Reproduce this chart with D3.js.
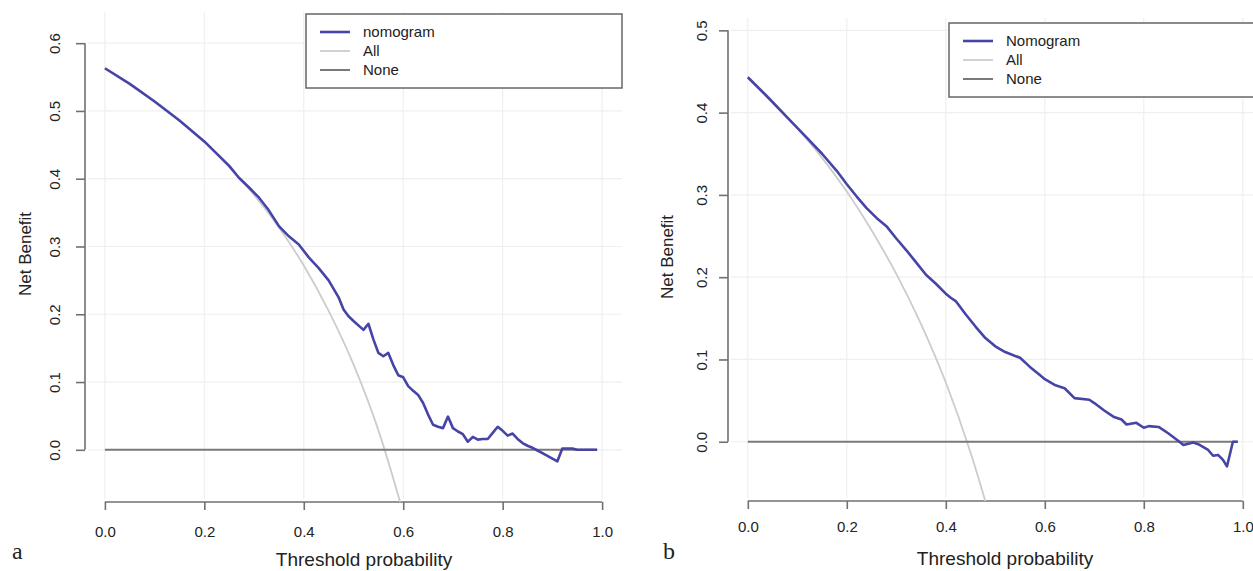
<!DOCTYPE html>
<html>
<head>
<meta charset="utf-8">
<script src="https://cdn.jsdelivr.net/npm/d3@7"></script>
<style>
  body { margin: 0; background: #fff; }
  text { font-family: "Liberation Sans", Arial, sans-serif; fill: #222; }
</style>
</head>
<body>
<div id="chart"></div>
<script>
// chart size
var chart_width = 1253;
var chart_height = 571;

// panel a data
var aThreshold = [0.00, 0.05, 0.10, 0.15, 0.20, 0.25, 0.27, 0.29, 0.31, 0.33, 0.35, 0.37, 0.39, 0.41, 0.43, 0.45, 0.47, 0.48, 0.49, 0.50,
  0.52, 0.53, 0.54, 0.55, 0.56, 0.57, 0.58, 0.59, 0.60, 0.61, 0.62, 0.63, 0.64, 0.65, 0.66, 0.67, 0.68, 0.69, 0.70, 0.71,
  0.72, 0.73, 0.74, 0.75, 0.76, 0.77, 0.78, 0.79, 0.80, 0.81, 0.82, 0.83, 0.84, 0.85, 0.86, 0.87, 0.88, 0.89, 0.90, 0.91,
  0.92, 0.93, 0.94, 0.95, 0.99];
var aNomogram = [0.563, 0.540, 0.514, 0.486, 0.455, 0.419, 0.401, 0.387, 0.372, 0.353, 0.330, 0.315, 0.303, 0.284, 0.268, 0.250, 0.225, 0.207, 0.197, 0.190,
  0.177, 0.186, 0.163, 0.143, 0.138, 0.143, 0.125, 0.110, 0.107, 0.094, 0.087, 0.081, 0.069, 0.052, 0.037, 0.034, 0.032, 0.049, 0.032, 0.027,
  0.023, 0.012, 0.019, 0.015, 0.016, 0.016, 0.025, 0.034, 0.028, 0.021, 0.024, 0.016, 0.010, 0.006, 0.003, -0.001, -0.005, -0.009, -0.013, -0.017,
  0.002, 0.002, 0.002, 0.000, 0.000];
var aAllThreshold = [0.00, 0.05, 0.10, 0.15, 0.20, 0.25, 0.30, 0.35, 0.40, 0.45, 0.50, 0.55, 0.60];
var aAll = [0.563, 0.540, 0.514, 0.486, 0.454, 0.417, 0.376, 0.328, 0.272, 0.205, 0.126, 0.029, -0.093];
var aYTicks = [0.0, 0.1, 0.2, 0.3, 0.4, 0.5, 0.6];

// panel b data
var bThreshold = [0.00, 0.04, 0.08, 0.12, 0.15, 0.18, 0.20, 0.22, 0.24, 0.26, 0.28, 0.30, 0.32, 0.34, 0.36, 0.38, 0.40, 0.41, 0.42, 0.44,
  0.46, 0.48, 0.50, 0.52, 0.55, 0.57, 0.59, 0.60, 0.62, 0.64, 0.66, 0.69, 0.70, 0.72, 0.74, 0.755, 0.765, 0.785, 0.80, 0.81,
  0.83, 0.85, 0.87, 0.88, 0.90, 0.91, 0.93, 0.94, 0.95, 0.96, 0.968, 0.98, 0.99];
var bNomogram = [0.443, 0.419, 0.394, 0.369, 0.350, 0.329, 0.313, 0.298, 0.284, 0.272, 0.262, 0.247, 0.233, 0.218, 0.203, 0.192, 0.180, 0.175, 0.171, 0.155,
  0.140, 0.126, 0.116, 0.109, 0.102, 0.091, 0.081, 0.076, 0.069, 0.065, 0.053, 0.051, 0.047, 0.038, 0.030, 0.027, 0.021, 0.023, 0.017, 0.019,
  0.018, 0.010, 0.001, -0.004, -0.001, -0.003, -0.010, -0.017, -0.016, -0.022, -0.030, 0.000, 0.000];
var bAllThreshold = [0.00, 0.05, 0.10, 0.15, 0.20, 0.25, 0.30, 0.35, 0.40, 0.45, 0.50];
var bAll = [0.443, 0.414, 0.381, 0.345, 0.304, 0.257, 0.204, 0.143, 0.072, -0.013, -0.114];
var bYTicks = [0.0, 0.1, 0.2, 0.3, 0.4, 0.5];

var xTicks = [0.0, 0.2, 0.4, 0.6, 0.8, 1.0];
var noneLevel = 0;

var svg = d3.select("#chart").append("svg")
  .attr("width", chart_width)
  .attr("height", chart_height);

function drawPanel(p) {
  var x = d3.scaleLinear().domain([-0.04, 1.04]).range([p.left, p.right]);
  var y = d3.scaleLinear().domain(p.yDomain).range([p.bottom, p.top]);
  var g = svg.append("g");

  // clip for the "All" curve
  g.append("clipPath").attr("id", "clip-" + p.id)
    .append("rect")
    .attr("x", p.left).attr("y", p.top)
    .attr("width", p.right - p.left).attr("height", p.bottom - p.top);

  // grid
  g.selectAll(".vgrid").data(xTicks).enter().append("line")
    .attr("x1", d => x(d)).attr("x2", d => x(d))
    .attr("y1", p.top).attr("y2", p.bottom - 3)
    .attr("stroke", "#efefef").attr("stroke-width", 1.2);
  g.selectAll(".hgrid").data(p.yTicks).enter().append("line")
    .attr("x1", p.left + 3).attr("x2", p.right)
    .attr("y1", d => y(d)).attr("y2", d => y(d))
    .attr("stroke", "#efefef").attr("stroke-width", 1.2);

  // y axis
  var yAxis = g.append("g").attr("transform", "translate(" + p.left + ",0)")
    .call(d3.axisLeft(y).tickValues(p.yTicks).tickFormat(d3.format(".1f")).tickSize(9).tickSizeOuter(0));
  yAxis.select(".domain").remove();
  yAxis.append("line")
    .attr("y1", y(p.yTicks[0])).attr("y2", y(p.yTicks[p.yTicks.length - 1]))
    .attr("stroke", "#707070").attr("stroke-width", 1.6);
  yAxis.selectAll(".tick line").attr("stroke", "#707070").attr("stroke-width", 1.6);
  yAxis.selectAll(".tick text")
    .attr("x", null).attr("dy", null)
    .attr("text-anchor", "middle")
    .attr("transform", "translate(" + p.yLabelOffset + ",0) rotate(-90)")
    .style("font-family", "Liberation Sans, Arial, sans-serif")
    .style("font-size", "15px").attr("fill", "#333");

  // x axis
  var xAxis = g.append("g").attr("transform", "translate(0," + p.bottom + ")")
    .call(d3.axisBottom(x).tickValues(xTicks).tickFormat(d3.format(".1f")).tickSize(8).tickSizeOuter(0));
  xAxis.select(".domain").remove();
  xAxis.append("line")
    .attr("x1", x(0)).attr("x2", x(1))
    .attr("stroke", "#707070").attr("stroke-width", 1.6);
  xAxis.selectAll(".tick line").attr("stroke", "#707070").attr("stroke-width", 1.6);
  xAxis.selectAll(".tick text")
    .attr("y", p.xLabelOffset).attr("dy", null)
    .style("font-family", "Liberation Sans, Arial, sans-serif")
    .style("font-size", "15px").attr("fill", "#333");

  var line = d3.line().x(d => x(d[0])).y(d => y(d[1]));

  // All
  g.append("path")
    .datum(d3.zip(p.allThreshold, p.all))
    .attr("clip-path", "url(#clip-" + p.id + ")")
    .attr("d", line.curve(d3.curveMonotoneX))
    .attr("fill", "none").attr("stroke", "#cccccc").attr("stroke-width", 1.8);

  // None
  g.append("line")
    .attr("x1", x(0)).attr("x2", x(p.threshold[p.threshold.length - 1]))
    .attr("y1", y(noneLevel)).attr("y2", y(noneLevel))
    .attr("stroke", "#7a7a7a").attr("stroke-width", 2);

  // nomogram
  g.append("path")
    .datum(d3.zip(p.threshold, p.nomogram))
    .attr("d", line.curve(d3.curveLinear))
    .attr("fill", "none").attr("stroke", "#4644a6").attr("stroke-width", 2.6)
    .attr("stroke-linejoin", "round");

  // axis titles
  g.append("text")
    .attr("transform", "translate(" + p.yTitleX + "," + p.yTitleY + ") rotate(-90)")
    .attr("text-anchor", "middle")
    .style("font-size", "17px")
    .text("Net Benefit");
  g.append("text")
    .attr("x", p.xTitleX).attr("y", p.xTitleY)
    .attr("text-anchor", "middle")
    .style("font-size", "19px")
    .text("Threshold probability");

  // panel letter
  g.append("text")
    .attr("x", p.letterX).attr("y", p.letterY)
    .style("font-family", "Liberation Serif, Times New Roman, serif")
    .style("font-size", "24px").attr("fill", "#111")
    .text(p.letter);

  // legend
  var lg = g.append("g");
  lg.append("rect")
    .attr("x", p.legend.x).attr("y", p.legend.y)
    .attr("width", p.legend.w).attr("height", p.legend.h)
    .attr("fill", "#fff").attr("stroke", "#666").attr("stroke-width", 1.5);
  var items = [
    {name: p.modelName, color: "#4644a6", w: 2.6},
    {name: "All", color: "#cccccc", w: 1.8},
    {name: "None", color: "#7a7a7a", w: 2}
  ];
  items.forEach(function(it, i) {
    var yy = p.legend.y + 18 + i * 19;
    lg.append("line")
      .attr("x1", p.legend.x + 14).attr("x2", p.legend.x + 44)
      .attr("y1", yy).attr("y2", yy)
      .attr("stroke", it.color).attr("stroke-width", it.w);
    lg.append("text")
      .attr("x", p.legend.x + 57).attr("y", yy + 5)
      .style("font-size", "15px").attr("fill", "#333")
      .text(it.name);
  });
}

drawPanel({
  id: "a", letter: "a", modelName: "nomogram",
  left: 85, right: 622, top: 12, bottom: 502, yDomain: [-0.077, 0.646],
  yTicks: aYTicks, threshold: aThreshold, nomogram: aNomogram,
  allThreshold: aAllThreshold, all: aAll,
  yLabelOffset: -25, xLabelOffset: 35,
  yTitleX: 31, yTitleY: 254, xTitleX: 364, xTitleY: 566,
  letterX: 12, letterY: 559,
  legend: {x: 306, y: 14, w: 316, h: 74}
});

drawPanel({
  id: "b", letter: "b", modelName: "Nomogram",
  left: 728, right: 1262.6, top: 18, bottom: 501, yDomain: [-0.072, 0.515],
  yTicks: bYTicks, threshold: bThreshold, nomogram: bNomogram,
  allThreshold: bAllThreshold, all: bAll,
  yLabelOffset: -21, xLabelOffset: 31,
  yTitleX: 673, yTitleY: 257, xTitleX: 1005, xTitleY: 565,
  letterX: 663, letterY: 559,
  legend: {x: 949, y: 23, w: 320, h: 74}
});
</script>
</body>
</html>
